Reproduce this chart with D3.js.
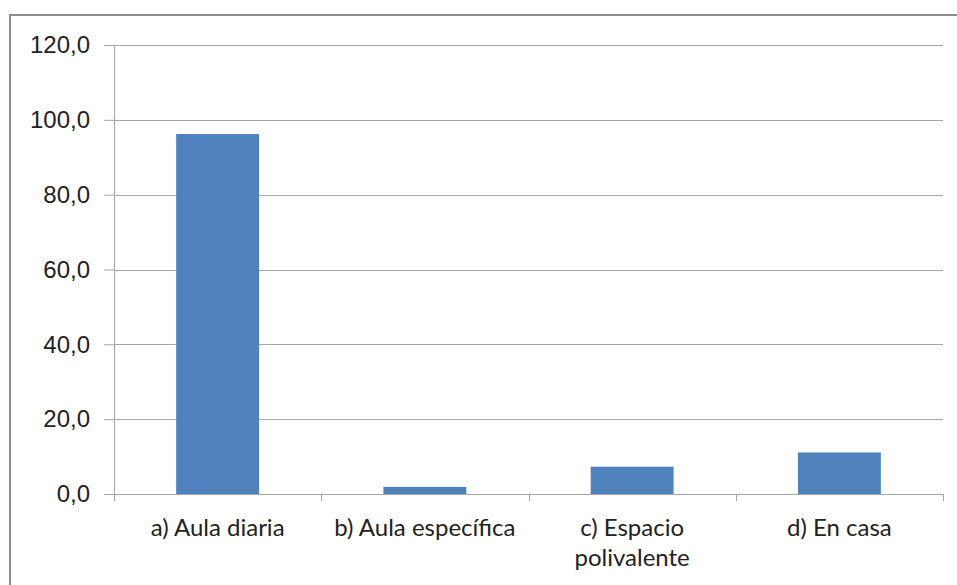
<!DOCTYPE html>
<html>
<head>
<meta charset="utf-8">
<script src="https://cdn.jsdelivr.net/npm/d3@7"></script>
<style>
  body { margin: 0; background: #fff; }
  svg { display: block; font-family: Lato, "Open Sans", sans-serif; }
</style>
</head>
<body>
<svg id="chart" width="957" height="585"></svg>
<script>
// 데이터
const categories = ["a) Aula diaria", "b) Aula específica", "c) Espacio polivalente", "d) En casa"];
const values = [96.2, 1.9, 7.3, 11.1];
const yTicks = [0, 20, 40, 60, 80, 100, 120];

const svg = d3.select("#chart");
const margin = { top: 45, right: 14, bottom: 91, left: 114 };
const width = 957 - margin.left - margin.right;
const height = 585 - margin.top - margin.bottom;

// 외곽 테두리
svg.append("rect")
  .attr("x", 10).attr("y", 15)
  .attr("width", 960).attr("height", 600)
  .attr("fill", "none")
  .attr("stroke", "#8c8c8c")
  .attr("stroke-width", 2);

const g = svg.append("g")
  .attr("transform", `translate(${margin.left},${margin.top})`);

const x = d3.scaleBand()
  .domain(categories)
  .range([0, width])
  .paddingInner(0.6)
  .paddingOuter(0.3);

const y = d3.scaleLinear()
  .domain([0, 120])
  .range([height, 0]);

// 그리드
g.selectAll(".grid")
  .data(yTicks.filter(d => d > 0))
  .enter().append("line")
  .attr("x1", 0).attr("x2", width)
  .attr("y1", d => Math.round(y(d)) + 0.5)
  .attr("y2", d => Math.round(y(d)) + 0.5)
  .attr("stroke", "#a6a6a6");

// y축
const yAxis = g.append("g")
  .call(d3.axisLeft(y).tickValues(yTicks).tickSize(10).tickPadding(14)
    .tickFormat(d => d3.format(".1f")(d).replace(".", ",")));
yAxis.select(".domain").attr("stroke", "#a6a6a6");
yAxis.selectAll(".tick line").attr("stroke", "#a6a6a6");
yAxis.selectAll("text").style("font-size", "24px").attr("fill", "#222");

// 막대
g.selectAll(".bar")
  .data(values)
  .enter().append("rect")
  .attr("class", "bar")
  .attr("x", (d, i) => x(categories[i]))
  .attr("width", x.bandwidth())
  .attr("y", d => y(d))
  .attr("height", d => height - y(d))
  .attr("fill", "#4f81bd");

// x축
const step = width / categories.length;
const xAxis = g.append("g")
  .attr("transform", `translate(0,${height})`);
xAxis.append("line")
  .attr("x1", 0).attr("x2", width)
  .attr("y1", 0.5).attr("y2", 0.5)
  .attr("stroke", "#a6a6a6");
xAxis.selectAll(".xtick")
  .data(d3.range(categories.length + 1))
  .enter().append("line")
  .attr("x1", i => Math.round(i * step) + 0.5)
  .attr("x2", i => Math.round(i * step) + 0.5)
  .attr("y1", 0).attr("y2", 7)
  .attr("stroke", "#a6a6a6");

const labelLines = [["a) Aula diaria"], ["b) Aula específica"], ["c) Espacio", "polivalente"], ["d) En casa"]];
const lab = xAxis.selectAll(".xlabel")
  .data(categories)
  .enter().append("text")
  .attr("x", d => x(d) + x.bandwidth() / 2)
  .attr("y", 42)
  .attr("text-anchor", "middle")
  .style("font-size", "24px")
  .attr("fill", "#222");
lab.each(function(d, i) {
  d3.select(this).selectAll("tspan")
    .data(labelLines[i])
    .enter().append("tspan")
    .attr("x", x(d) + x.bandwidth() / 2)
    .attr("dy", (t, j) => j === 0 ? 0 : 30)
    .text(t => t);
});
</script>
</body>
</html>
